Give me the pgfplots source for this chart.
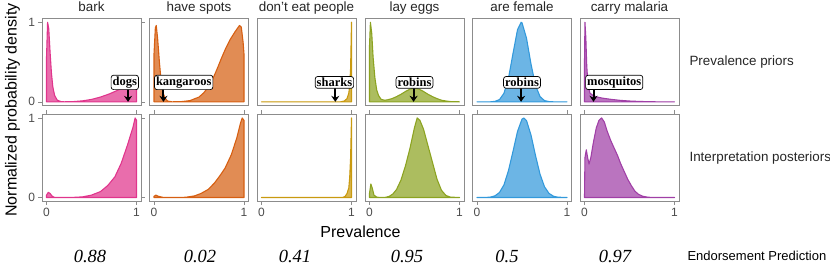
\documentclass[border=0pt]{standalone}
\usepackage{fontspec}
\setmainfont{Liberation Sans}
\newfontfamily\serif{Liberation Serif}
\usepackage{pgfplots}
\pgfplotsset{compat=1.18}
\usetikzlibrary{arrows.meta}
\definecolor{cbark}{HTML}{E0358C}
\definecolor{cspots}{HTML}{D65F12}
\definecolor{csharks}{HTML}{C99A10}
\definecolor{ceggs}{HTML}{8CA321}
\definecolor{cfemale}{HTML}{3399DB}
\definecolor{cmalaria}{HTML}{A03FA6}
\pgfplotsset{
 panel/.style={scale only axis, width=99pt, height=87.5pt,
   xmin=-0.05, xmax=1.05, ymin=-0.05, ymax=1.05, anchor=north west,
   axis line style={draw=black!45, line width=0.6pt},
   xtick=\empty, ytick=\empty, clip mode=individual,
   tick style={draw=black!45, line width=0.6pt}, tick align=outside,
   major tick length=3.5pt,
   ticklabel style={font=\fontsize{12}{13}\selectfont, text=black!70},
   /pgf/number format/assume math mode=true},
 yt/.style={ytick={0,1}, yticklabels={0,1}},
 xt/.style={xtick={0,1}, xticklabels={0,1}},
 dens/.style={draw=#1, fill=#1, fill opacity=0.72, line width=1.1pt, line join=round},
}
\tikzset{
 lab/.style={draw=black, fill=white, rounded corners=2.5pt, inner sep=1.5pt, line width=0.7pt,
   font=\serif\bfseries\fontsize{12.5}{13}\selectfont},
 arr/.style={line width=2pt, -{Stealth[length=6pt,width=8pt]}},
}
\begin{document}
\begin{tikzpicture}
\path[use as bounding box] (0,0) rectangle (830pt,267pt);
% ---------- top row: priors ----------
\begin{axis}[panel, yt, at={(42pt,248.7pt)}]
\addplot[dens=cbark] coordinates {(0,0.55)(0.012,1)(0.025,0.92)(0.04,0.62)(0.055,0.36)(0.07,0.19)(0.09,0.08)(0.12,0.02)(0.16,0.003)(0.2,0)(0.3,0.003)(0.4,0.012)(0.5,0.03)(0.6,0.06)(0.7,0.1)(0.8,0.15)(0.85,0.175)(0.9,0.185)(0.95,0.185)(1,0.185)} \closedcycle;
\draw[arr] (axis cs:0.906,0.18) -- (axis cs:0.906,0.0);
\node[lab] at (axis cs:0.87,0.244) {dogs};
\end{axis}
\begin{axis}[panel, at={(149.5pt,248.7pt)}]
\addplot[dens=cspots] coordinates {(0,0.6)(0.015,0.93)(0.025,0.96)(0.04,0.8)(0.06,0.5)(0.08,0.25)(0.1,0.12)(0.12,0.05)(0.15,0.01)(0.2,0)(0.3,0.002)(0.4,0.015)(0.5,0.06)(0.55,0.11)(0.6,0.18)(0.65,0.28)(0.7,0.41)(0.75,0.55)(0.8,0.68)(0.85,0.79)(0.9,0.88)(0.95,0.96)(0.97,0.94)(0.99,0.75)(1,0.6)} \closedcycle;
\draw[arr] (axis cs:0.105,0.18) -- (axis cs:0.105,0.0);
\node[lab] at (axis cs:0.33,0.244) {kangaroos};
\end{axis}
\begin{axis}[panel, at={(257pt,248.7pt)}]
\addplot[dens=csharks] coordinates {(0,0)(0.88,0)(0.92,0.01)(0.95,0.04)(0.97,0.11)(0.98,0.2)(0.99,0.42)(1,1)} \closedcycle;
\draw[arr] (axis cs:0.82,0.18) -- (axis cs:0.82,0.0);
\node[lab] at (axis cs:0.81,0.244) {sharks};
\end{axis}
\begin{axis}[panel, at={(365pt,248.7pt)}]
\addplot[dens=ceggs] coordinates {(0,0.7)(0.01,1)(0.025,0.86)(0.04,0.56)(0.06,0.3)(0.08,0.15)(0.1,0.08)(0.13,0.03)(0.17,0.02)(0.2,0.025)(0.25,0.04)(0.3,0.065)(0.35,0.095)(0.4,0.13)(0.45,0.16)(0.5,0.175)(0.55,0.16)(0.6,0.13)(0.65,0.095)(0.7,0.065)(0.75,0.04)(0.8,0.02)(0.85,0.01)(0.9,0.003)(1,0)} \closedcycle;
\draw[arr] (axis cs:0.49,0.18) -- (axis cs:0.49,0.0);
\node[lab] at (axis cs:0.5,0.244) {robins};
\end{axis}
\begin{axis}[panel, at={(472.5pt,248.7pt)}]
\addplot[dens=cfemale] coordinates {(0,0)(0.15,0)(0.2,0.006)(0.25,0.028)(0.3,0.108)(0.35,0.298)(0.4,0.607)(0.45,0.906)(0.49,1)(0.5,0.994)(0.55,0.8)(0.6,0.474)(0.65,0.206)(0.7,0.066)(0.75,0.015)(0.8,0.003)(0.85,0)(1,0)} \closedcycle;
\draw[arr] (axis cs:0.49,0.18) -- (axis cs:0.49,0.0);
\node[lab] at (axis cs:0.5,0.244) {robins};
\end{axis}
\begin{axis}[panel, at={(580pt,248.7pt)}]
\addplot[dens=cmalaria] coordinates {(0,0.5)(0.005,1)(0.015,0.8)(0.025,0.45)(0.04,0.2)(0.06,0.11)(0.1,0.075)(0.15,0.058)(0.2,0.046)(0.3,0.03)(0.4,0.018)(0.5,0.01)(0.6,0.005)(0.7,0.002)(0.8,0)(1,0)} \closedcycle;
\draw[arr] (axis cs:0.1,0.18) -- (axis cs:0.1,0.0);
\node[lab] at (axis cs:0.33,0.244) {mosquitos};
\end{axis}
% ---------- bottom row: posteriors ----------
\begin{axis}[panel, yt, xt, at={(42pt,153pt)}]
\addplot[dens=cbark] coordinates {(0,0.03)(0.02,0.065)(0.04,0.05)(0.06,0.02)(0.08,0.005)(0.1,0)(0.3,0.002)(0.4,0.008)(0.5,0.03)(0.6,0.075)(0.68,0.15)(0.76,0.26)(0.83,0.43)(0.9,0.66)(0.96,0.88)(0.985,1)(1,0.97)} \closedcycle;
\end{axis}
\begin{axis}[panel, xt, at={(149.5pt,153pt)}]
\addplot[dens=cspots] coordinates {(0,0.015)(0.02,0.03)(0.05,0.015)(0.1,0.002)(0.2,0)(0.35,0.003)(0.45,0.02)(0.52,0.05)(0.6,0.1)(0.67,0.18)(0.73,0.27)(0.79,0.37)(0.86,0.54)(0.92,0.75)(0.96,0.93)(0.98,1)(1,0.97)} \closedcycle;
\end{axis}
\begin{axis}[panel, xt, at={(257pt,153pt)}]
\addplot[dens=csharks] coordinates {(0,0)(0.9,0)(0.93,0.015)(0.95,0.05)(0.97,0.12)(0.98,0.25)(0.99,0.5)(1,1)} \closedcycle;
\end{axis}
\begin{axis}[panel, xt, at={(365pt,153pt)}]
\addplot[dens=ceggs] coordinates {(0,0.05)(0.015,0.17)(0.03,0.12)(0.05,0.03)(0.08,0.005)(0.12,0)(0.18,0.003)(0.22,0.015)(0.26,0.045)(0.3,0.1)(0.35,0.22)(0.4,0.4)(0.45,0.62)(0.5,0.88)(0.53,1)(0.56,0.97)(0.6,0.86)(0.65,0.65)(0.7,0.44)(0.75,0.23)(0.8,0.09)(0.85,0.025)(0.9,0.005)(1,0)} \closedcycle;
\end{axis}
\begin{axis}[panel, xt, at={(472.5pt,153pt)}]
\addplot[dens=cfemale] coordinates {(0,0)(0.1,0.001)(0.15,0.006)(0.2,0.021)(0.25,0.064)(0.3,0.16)(0.35,0.34)(0.4,0.58)(0.45,0.83)(0.5,0.985)(0.52,1)(0.55,0.967)(0.6,0.785)(0.65,0.528)(0.7,0.294)(0.75,0.135)(0.8,0.052)(0.85,0.016)(0.9,0.004)(1,0)} \closedcycle;
\end{axis}
\begin{axis}[panel, xt, at={(580pt,153pt)}]
\addplot[dens=cmalaria] coordinates {(0,0)(0.005,0.5)(0.02,0.6)(0.035,0.5)(0.05,0.42)(0.07,0.5)(0.1,0.7)(0.13,0.87)(0.16,0.97)(0.19,1)(0.22,0.95)(0.25,0.84)(0.29,0.72)(0.33,0.62)(0.37,0.52)(0.4,0.43)(0.44,0.33)(0.48,0.23)(0.52,0.15)(0.56,0.08)(0.6,0.04)(0.65,0.015)(0.7,0.005)(0.75,0)(1,0)} \closedcycle;
\end{axis}
% ---------- texts ----------
\begin{scope}[every node/.style={font=\fontsize{13.4}{16}\selectfont, text=black!85}]
\node[anchor=base] at (91.5pt,255.5pt) {bark};
\node[anchor=base] at (199pt,255.5pt) {have spots};
\node[anchor=base] at (306.5pt,255.5pt) {don't eat people};
\node[anchor=base] at (414.5pt,255.5pt) {lay eggs};
\node[anchor=base] at (522pt,255.5pt) {are female};
\node[anchor=base] at (629.5pt,255.5pt) {carry malaria};
\node[anchor=west] at (686pt,205pt) {Prevalence priors};
\node[anchor=west] at (686pt,109pt) {Interpretation posteriors};
\end{scope}
\node[rotate=90, font=\fontsize{16}{18}\selectfont] at (12.5pt,157pt) {Normalized probability density};
\node[font=\fontsize{16}{18}\selectfont] at (360.5pt,35pt) {Prevalence};
\begin{scope}[every node/.style={font=\serif\itshape\fontsize{18.5}{20}\selectfont}]
\node at (90pt,11pt) {0.88};
\node at (200pt,11pt) {0.02};
\node at (295pt,11pt) {0.41};
\node at (407pt,11pt) {0.95};
\node at (507pt,11pt) {0.5};
\node at (615pt,11pt) {0.97};
\end{scope}
\node[anchor=west, font=\fontsize{13}{15}\selectfont] at (684pt,11pt) {Endorsement Prediction};
\end{tikzpicture}
\end{document}
